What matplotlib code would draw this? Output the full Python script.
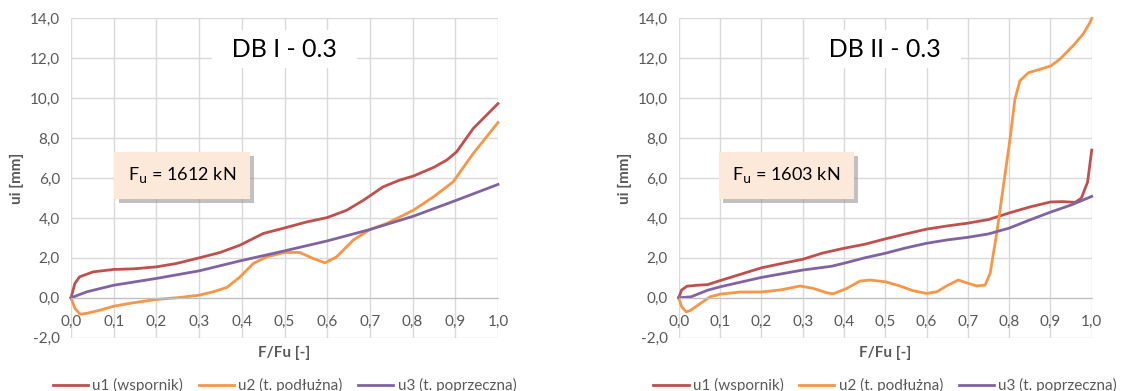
import matplotlib
matplotlib.use("Agg")
import matplotlib.pyplot as plt
import matplotlib.patheffects as pe
from matplotlib.ticker import FuncFormatter

plt.rcParams['font.family'] = ['Lato', 'DejaVu Sans']

# DB I - 0.3
x1_u1 = [0, 0.009, 0.02, 0.052, 0.1, 0.146, 0.2, 0.247, 0.3, 0.349, 0.396, 0.45, 0.5, 0.552,
         0.6, 0.646, 0.685, 0.731, 0.77, 0.802, 0.849, 0.88, 0.903, 0.942, 1.0]
y1_u1 = [0, 0.72, 1.05, 1.3, 1.42, 1.45, 1.55, 1.72, 2.0, 2.27, 2.64, 3.22, 3.5, 3.8,
         4.02, 4.39, 4.89, 5.56, 5.9, 6.1, 6.53, 6.9, 7.31, 8.48, 9.73]
x1_u2 = [0, 0.009, 0.021, 0.037, 0.068, 0.1, 0.146, 0.2, 0.247, 0.3, 0.333, 0.365, 0.396,
         0.427, 0.458, 0.5, 0.536, 0.567, 0.595, 0.622, 0.661, 0.7, 0.739, 0.802, 0.849,
         0.895, 0.942, 1.0]
y1_u2 = [0, -0.53, -0.82, -0.78, -0.62, -0.42, -0.25, -0.08, 0, 0.13, 0.3, 0.52, 1.05,
         1.72, 2.05, 2.27, 2.27, 1.97, 1.75, 2.05, 2.89, 3.42, 3.72, 4.39, 5.06,
         5.81, 7.23, 8.78]
x1_u3 = [0, 0.037, 0.1, 0.2, 0.3, 0.396, 0.5, 0.6, 0.7, 0.802, 0.903, 1.0]
y1_u3 = [0, 0.3, 0.63, 0.97, 1.35, 1.85, 2.35, 2.85, 3.42, 4.09, 4.89, 5.68]

# DB II - 0.3
x2_u1 = [0, 0.007, 0.02, 0.045, 0.07, 0.1, 0.15, 0.2, 0.25, 0.3, 0.35, 0.4, 0.45, 0.5,
         0.55, 0.6, 0.65, 0.7, 0.75, 0.8, 0.85, 0.9, 0.93, 0.96, 0.975, 0.99, 1.0]
y2_u1 = [0, 0.39, 0.58, 0.63, 0.66, 0.86, 1.18, 1.5, 1.72, 1.93, 2.25, 2.48, 2.68, 2.95,
         3.2, 3.44, 3.6, 3.74, 3.92, 4.25, 4.55, 4.8, 4.82, 4.78, 5.0, 5.8, 7.4]
x2_u2 = [0, 0.007, 0.018, 0.027, 0.052, 0.076, 0.1, 0.149, 0.2, 0.245, 0.294, 0.326, 0.358,
         0.374, 0.407, 0.439, 0.463, 0.501, 0.536, 0.568, 0.6, 0.625, 0.649, 0.677, 0.697,
         0.722, 0.742, 0.754, 0.77, 0.786, 0.802, 0.814, 0.826, 0.847, 0.875, 0.901, 0.923,
         0.955, 0.979, 0.996, 1.0]
y2_u2 = [0, -0.45, -0.7, -0.65, -0.29, 0.05, 0.18, 0.29, 0.29, 0.39, 0.59, 0.47, 0.25,
         0.2, 0.47, 0.84, 0.89, 0.8, 0.59, 0.35, 0.22, 0.3, 0.6, 0.89, 0.75,
         0.59, 0.64, 1.22, 3.24, 5.58, 7.93, 9.94, 10.87, 11.28, 11.45, 11.62, 11.96,
         12.63, 13.21, 13.8, 14.0]
x2_u3 = [0, 0.03, 0.07, 0.1, 0.2, 0.3, 0.37, 0.4, 0.45, 0.5, 0.55, 0.6, 0.65, 0.7, 0.75,
         0.8, 0.85, 0.9, 0.95, 1.0]
y2_u3 = [0, 0.05, 0.38, 0.55, 1.02, 1.39, 1.58, 1.73, 2.0, 2.23, 2.5, 2.73, 2.9, 3.03, 3.2,
         3.49, 3.9, 4.29, 4.65, 5.08]

labels = ['u1 (wspornik)', 'u2 (t. podłużna)', 'u3 (t. poprzeczna)']
colors = ['#C0504D', '#F79646', '#8064A2']
titles = ['DB I - 0.3', 'DB II - 0.3']
fu_texts = ['F$_\\mathrm{u}$ = 1612 kN', 'F$_\\mathrm{u}$ = 1603 kN']

panels = [
    [(x1_u1, y1_u1), (x1_u2, y1_u2), (x1_u3, y1_u3)],
    [(x2_u1, y2_u1), (x2_u2, y2_u2), (x2_u3, y2_u3)],
]
axes_pos = [[0.0621, 0.1363, 0.3732, 0.8167], [0.5933, 0.1363, 0.361, 0.8167]]

fig = plt.figure(figsize=(11.44, 3.91), dpi=100)
comma = FuncFormatter(lambda v, p: f'{v:.1f}'.replace('.', ','))

for i in range(2):
    ax = fig.add_axes(axes_pos[i])
    for (xs, ys), c, lab in zip(panels[i], colors, labels):
        ax.plot(xs, ys, color=c, lw=2, label=lab, solid_joinstyle='round', clip_on=False)
    ax.set_xlim(0, 1)
    ax.set_ylim(-2, 14)
    ax.set_xticks([k / 10 for k in range(11)])
    ax.set_yticks(range(-2, 15, 2))
    ax.xaxis.set_major_formatter(comma)
    ax.yaxis.set_major_formatter(comma)
    ax.grid(True, color='#D9D9D9', lw=1)
    ax.set_axisbelow(True)
    for s in ['top', 'right', 'left']:
        ax.spines[s].set_visible(False)
    ax.spines['bottom'].set_position(('data', 0))
    ax.spines['bottom'].set_color('#BFBFBF')
    ax.tick_params(length=0, labelsize=11, colors='#595959')
    ax.tick_params(axis='x', pad=12)
    ax.tick_params(axis='y', pad=8)
    ax.set_ylabel('ui [mm]', fontsize=11, fontweight='bold', color='#595959', labelpad=4)
    ax.set_xlabel('F/Fu [-]', fontsize=11, fontweight='bold', color='#595959')
    ax.xaxis.set_label_coords(0.5, -0.025)
    ax.text(0.5, 12.45, '  ' + titles[i] + '  ', fontsize=18, ha='center', va='center',
            bbox=dict(boxstyle='square,pad=0.3', fc='white', ec='none'))
    t = ax.text(0.26, 6.15, fu_texts[i], fontsize=13, ha='center', va='center',
                bbox=dict(boxstyle='square,pad=0.75', fc='#FDE9DA', ec='none'))
    t.get_bbox_patch().set_path_effects([
        pe.withSimplePatchShadow(offset=(3, -3), shadow_rgbFace='#999999', alpha=0.6),
        pe.Normal()])
    leg = ax.legend(loc='center', bbox_to_anchor=(0.5, -0.15), ncol=3, frameon=False,
                    fontsize=11, handlelength=2.3, columnspacing=1.0, handletextpad=0.3)
    for txt in leg.get_texts():
        txt.set_color('#595959')

fig.savefig('out.png', dpi=100)
